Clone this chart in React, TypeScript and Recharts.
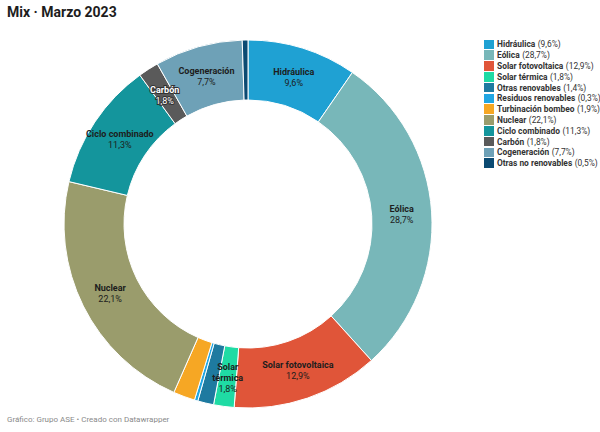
import React from 'react';
import { PieChart, Pie, Cell, Legend } from 'recharts';

const categories = [
  'Hidráulica',
  'Eólica',
  'Solar fotovoltaica',
  'Solar térmica',
  'Otras renovables',
  'Residuos renovables',
  'Turbinación bombeo',
  'Nuclear',
  'Ciclo combinado',
  'Carbón',
  'Cogeneración',
  'Otras no renovables',
];

const values = [9.6, 28.7, 12.9, 1.8, 1.4, 0.3, 1.9, 22.1, 11.3, 1.8, 7.7, 0.5];

const colors = [
  '#1fa1d3',
  '#78b7b9',
  '#e05539',
  '#1fdba4',
  '#1e7aa0',
  '#20a6e3',
  '#f6a724',
  '#9a9c6c',
  '#14959c',
  '#5a5a5a',
  '#6ea1b7',
  '#0b4a72',
];

const showLabel = [true, true, true, true, false, false, false, true, true, true, true, false];
const labelLines: string[][] = [
  ['Hidráulica'],
  ['Eólica'],
  ['Solar fotovoltaica'],
  ['Solar', 'térmica'],
  [],
  [],
  [],
  ['Nuclear'],
  ['Ciclo combinado'],
  ['Carbón'],
  ['Cogeneración'],
  [],
];
const whiteLabel = [false, false, false, false, false, false, false, false, false, true, false, false];

const fmt = (v: number) => v.toFixed(1).replace('.', ',') + '%';

const data = categories.map((name, i) => ({ name, value: values[i] }));

const FONT = 'Roboto, "Noto Sans", sans-serif';
const RADIAN = Math.PI / 180;

const renderLabel = (props: any) => {
  const { cx, cy, midAngle, innerRadius, outerRadius, index } = props;
  if (!showLabel[index]) return null;
  const r = (innerRadius + outerRadius) / 2;
  const x = cx + r * Math.cos(-midAngle * RADIAN);
  const y = cy + r * Math.sin(-midAngle * RADIAN);
  const lines = [...labelLines[index].map((t) => ({ t, bold: true })), { t: fmt(values[index]), bold: false }];
  const n = lines.length;
  const white = whiteLabel[index];
  return (
    <g key={'lbl' + index}>
      {lines.map((ln, i) => (
        <text
          key={i}
          x={x}
          y={y + (i - (n - 1) / 2) * 11 + 1}
          textAnchor="middle"
          dominantBaseline="central"
          fontFamily={FONT}
          fontSize={9}
          fontWeight={ln.bold ? 700 : 400}
          fill={white ? '#ffffff' : '#1d1d1d'}
          stroke={white ? '#333333' : 'none'}
          strokeWidth={white ? 2 : 0}
          paintOrder="stroke"
        >
          {ln.t}
        </text>
      ))}
    </g>
  );
};

const renderLegend = () => (
  <div style={{ fontFamily: FONT, fontSize: 8.4, color: '#333', whiteSpace: 'nowrap' }}>
    {categories.map((c, i) => (
      <div key={c} style={{ display: 'flex', alignItems: 'center', height: 10.8 }}>
        <span
          style={{
            display: 'inline-block',
            flexShrink: 0,
            width: 10,
            height: 9.5,
            background: colors[i],
            marginRight: 3,
          }}
        />
        <span style={{ fontWeight: 700 }}>{c}</span>
        <span style={{ marginLeft: 2.5 }}>({fmt(values[i])})</span>
      </div>
    ))}
  </div>
);

export default function App() {
  return (
    <div style={{ position: 'absolute', left: 0, top: 0, width: 600, height: 432, background: '#fff', overflow: 'hidden' }}>
      <div
        style={{
          position: 'absolute',
          left: 7,
          top: 4,
          fontFamily: FONT,
          fontWeight: 700,
          fontSize: 14,
          color: '#1d1d1d',
        }}
      >
        Mix · Marzo 2023
      </div>
      <div style={{ position: 'absolute', left: 0, top: 0 }}>
        <PieChart width={600} height={432}>
          <Pie
            data={data}
            dataKey="value"
            nameKey="name"
            cx={243}
            cy={219}
            innerRadius={124}
            outerRadius={184}
            startAngle={90}
            endAngle={-270}
            stroke="#ffffff"
            strokeWidth={1}
            label={renderLabel}
            labelLine={false}
            isAnimationActive={false}
          >
            {data.map((d, i) => (
              <Cell key={d.name} fill={colors[i]} />
            ))}
          </Pie>
          <Legend
            content={renderLegend}
            layout="vertical"
            verticalAlign="top"
            align="right"
            wrapperStyle={{ position: 'absolute', left: 484, top: 39, width: 'auto' }}
          />
        </PieChart>
      </div>
      <div
        style={{
          position: 'absolute',
          left: 7,
          top: 415,
          fontFamily: FONT,
          fontSize: 8,
          color: '#8a8a8a',
        }}
      >
        Gráfico: Grupo ASE • Creado con Datawrapper
      </div>
    </div>
  );
}
